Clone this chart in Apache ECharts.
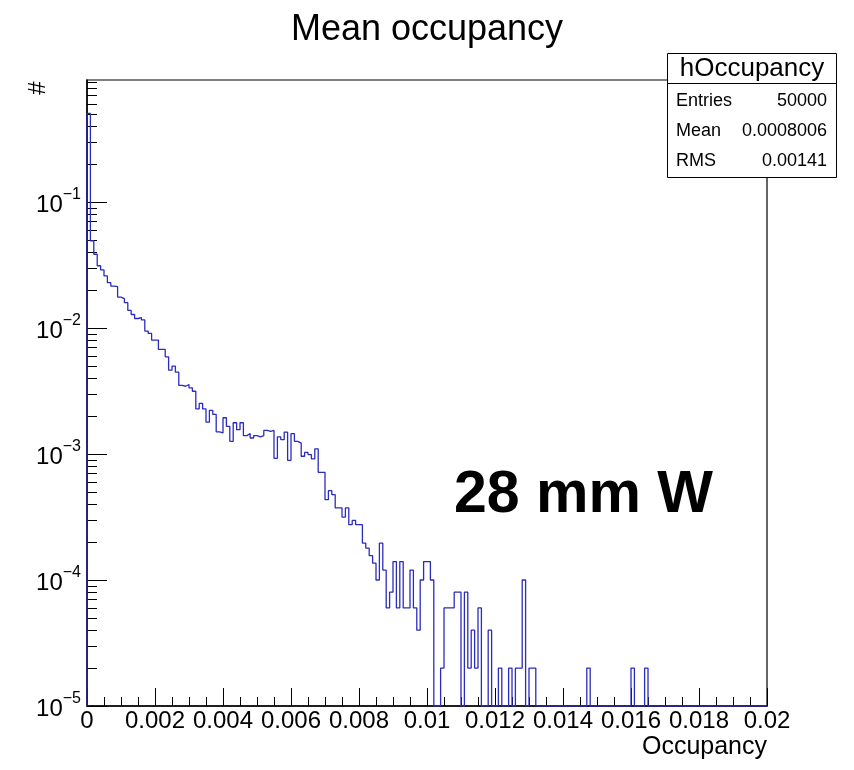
<!DOCTYPE html>
<html>
<head>
<meta charset="utf-8">
<script src="https://cdn.jsdelivr.net/npm/echarts@6/dist/echarts.min.js"></script>
<style>
html,body{margin:0;padding:0;background:#fff;}
#chart{width:854px;height:770px;}
</style>
</head>
<body>
<div id="chart"></div>
<script>
// ---- data (fraction of entries per bin, bin width 0.0001, x from 0 to 0.02) ----
const binWidth = 0.0001;
const xMin = 0, xMax = 0.02;
const yMin = 1e-5, yMax = 0.93;
const binValues = [
  0.505, 0.0491, 0.0385, 0.0312, 0.0289, 0.0259, 0.0229, 0.0215, 0.0213, 0.0176,
  0.0171, 0.0159, 0.0138, 0.0128, 0.0119, 0.0121, 0.0116, 0.00945, 0.00906, 0.00802,
  0.00802, 0.00676, 0.00676, 0.00591, 0.00463, 0.00498, 0.00446, 0.0035, 0.00345, 0.00356,
  0.00335, 0.00315, 0.00228, 0.00252, 0.00228, 0.00179, 0.00222, 0.00206, 0.0015, 0.00147,
  0.00194, 0.00166, 0.00126, 0.00177, 0.00156, 0.00177, 0.0014, 0.00145, 0.00134, 0.0014,
  0.00137, 0.0014, 0.00154, 0.00151, 0.00154, 0.000925, 0.00137, 0.0013, 0.00149, 0.000891,
  0.00145, 0.00126, 0.00122, 0.00096, 0.00103, 0.00099, 0.000914, 0.0011, 0.000716, 0.000716,
  0.000434, 0.000512, 0.000476, 0.000373, 0.000373, 0.000316, 0.000373, 0.000275, 0.000297, 0.000275,
  0.000275, 0.000196, 0.000179, 0.000156, 0.000136, 0.0001, 0.000196, 0.00012, 0.00006, 0.00008,
  0.00014, 0.00006, 0.00014, 0.00006, 0.00006, 0.00012, 0.00006, 0.00004, 0.0001, 0.00014,
  0.00014, 0.0001, 0, 0, 0.00002, 0.00006, 0.00006, 0.00006, 0.00008, 0.00008,
  0, 0.00008, 0.00002, 0.00004, 0.00002, 0.00006, 0, 0, 0.00004, 0,
  0, 0.00002, 0, 0, 0.00002, 0, 0.00002, 0.00002, 0.0001, 0,
  0.00002, 0.00002, 0, 0, 0, 0, 0, 0, 0, 0,
  0, 0, 0, 0, 0, 0, 0, 0.00002, 0, 0,
  0, 0, 0, 0, 0, 0, 0, 0, 0, 0,
  0.00002, 0, 0, 0, 0.00002, 0, 0, 0, 0, 0,
  0, 0, 0, 0, 0, 0, 0, 0, 0, 0,
  0, 0, 0, 0, 0, 0, 0, 0, 0, 0,
  0, 0, 0, 0, 0, 0, 0, 0, 0, 0
];
const xTickLabels = ['0', '0.002', '0.004', '0.006', '0.008', '0.01', '0.012', '0.014', '0.016', '0.018', '0.02'];
const yDecades = [1e-5, 1e-4, 1e-3, 1e-2, 1e-1];
const yDecadeExponents = ['\u22125', '\u22124', '\u22123', '\u22122', '\u22121'];
const yMinorMultipliers = [2, 3, 4, 5, 6, 7, 8, 9];
const statsTitle = 'hOccupancy';
const statsRows = [['Entries', '50000'], ['Mean', '0.0008006'], ['RMS', '0.00141']];
const chartTitle = 'Mean occupancy';
const xAxisTitle = 'Occupancy';
const yAxisTitle = '#';
const annotation = '28 mm W';

// ---- build ----
const FONT = '"Liberation Sans", Arial, Helvetica, sans-serif';
const stepData = [[xMin, yMin]];
binValues.forEach((v, i) => stepData.push([+(i * binWidth).toFixed(6), v > 0 ? v : yMin]));
stepData.push([xMax, yMin]);

const yMinorValues = [];
yDecades.forEach(d => yMinorMultipliers.forEach(m => { if (m * d < yMax) yMinorValues.push(m * d); }));

const G = {left: 87, top: 80, width: 680, height: 626};

const chart = echarts.init(document.getElementById('chart'), null, {renderer: 'canvas'});
chart.setOption({
  animation: false,
  backgroundColor: '#fff',
  title: {
    text: chartTitle, left: 'center', top: 7,
    textStyle: {fontFamily: FONT, fontSize: 36, fontWeight: 'normal', color: '#000'}
  },
  grid: {left: G.left, top: G.top, width: G.width, height: G.height, show: true, borderColor: '#000', borderWidth: 1.2, backgroundColor: 'transparent'},
  xAxis: {
    type: 'value', min: xMin, max: xMax, interval: 0.002,
    axisLine: {show: true, lineStyle: {color: '#000', width: 1.5}},
    axisTick: {show: true, inside: true, length: 18, lineStyle: {color: '#000', width: 1}},
    minorTick: {show: true, splitNumber: 4, length: 9, lineStyle: {color: '#000', width: 1}},
    splitLine: {show: false},
    axisLabel: {
      margin: 3, color: '#000', fontFamily: FONT, fontSize: 24,
      showMinLabel: true, showMaxLabel: true, hideOverlap: false,
      formatter: (v) => xTickLabels[Math.round(v / 0.002)]
    },
    name: xAxisTitle, nameLocation: 'end', nameGap: 0,
    nameTextStyle: {fontFamily: FONT, fontSize: 25, color: '#000', align: 'right', verticalAlign: 'top', padding: [29, 0, 0, 0]}
  },
  yAxis: [{
    type: 'log', logBase: 10, min: yMin, max: yMax,
    axisLine: {show: true, lineStyle: {color: '#000', width: 1.5}},
    axisTick: {show: true, inside: true, length: 20, lineStyle: {color: '#000', width: 1}, customValues: yDecades},
    splitLine: {show: false},
    axisLabel: {
      margin: 6, customValues: yDecades, color: '#000', fontFamily: FONT,
      formatter: (v) => {
        const idx = Math.round(Math.log10(v)) + 5;
        return '{b|10}{s|' + yDecadeExponents[idx] + '}';
      },
      rich: {
        b: {fontFamily: FONT, fontSize: 24, color: '#000', lineHeight: 30, verticalAlign: 'bottom'},
        s: {fontFamily: FONT, fontSize: 16, color: '#000', lineHeight: 16, verticalAlign: 'top'}
      }
    }
  }, {
    type: 'log', logBase: 10, min: yMin, max: yMax, position: 'left',
    axisLine: {show: false},
    axisTick: {show: true, inside: true, length: 10, lineStyle: {color: '#000', width: 1}, customValues: yMinorValues},
    axisLabel: {show: false},
    splitLine: {show: false}
  }],
  series: [{
    type: 'line', step: 'end', data: stepData, showSymbol: false, symbol: 'none',
    lineStyle: {color: '#2b2bbf', width: 1.3}, clip: true, z: 3
  }],
  graphic: [
    {type: 'text', x: 38, y: 88, rotation: Math.PI / 2, z: 10,
      style: {text: yAxisTitle, fontFamily: FONT, fontSize: 24, fill: '#000', textAlign: 'center', textVerticalAlign: 'middle'}},
    {type: 'text', x: 713, y: 496, z: 10,
      style: {text: annotation, fontFamily: FONT, fontSize: 59, fontWeight: 'bold', fill: '#000', textAlign: 'right', textVerticalAlign: 'middle'}},
    {type: 'rect', shape: {x: 667.5, y: 53.5, width: 169, height: 124}, z: 20,
      style: {fill: '#fff', stroke: '#000', lineWidth: 1}},
    {type: 'line', shape: {x1: 667.5, y1: 83.5, x2: 836.5, y2: 83.5}, z: 21, style: {stroke: '#000', lineWidth: 1}},
    {type: 'text', x: 752, y: 68.5, z: 21,
      style: {text: statsTitle, fontFamily: FONT, fontSize: 26, fill: '#000', textAlign: 'center', textVerticalAlign: 'middle'}},
    ...statsRows.flatMap((r, i) => [
      {type: 'text', x: 676, y: 101.5 + i * 30, z: 21,
        style: {text: r[0], fontFamily: FONT, fontSize: 18, fill: '#000', textAlign: 'left', textVerticalAlign: 'middle'}},
      {type: 'text', x: 827, y: 101.5 + i * 30, z: 21,
        style: {text: r[1], fontFamily: FONT, fontSize: 18, fill: '#000', textAlign: 'right', textVerticalAlign: 'middle'}}
    ])
  ]
});
</script>
</body>
</html>
